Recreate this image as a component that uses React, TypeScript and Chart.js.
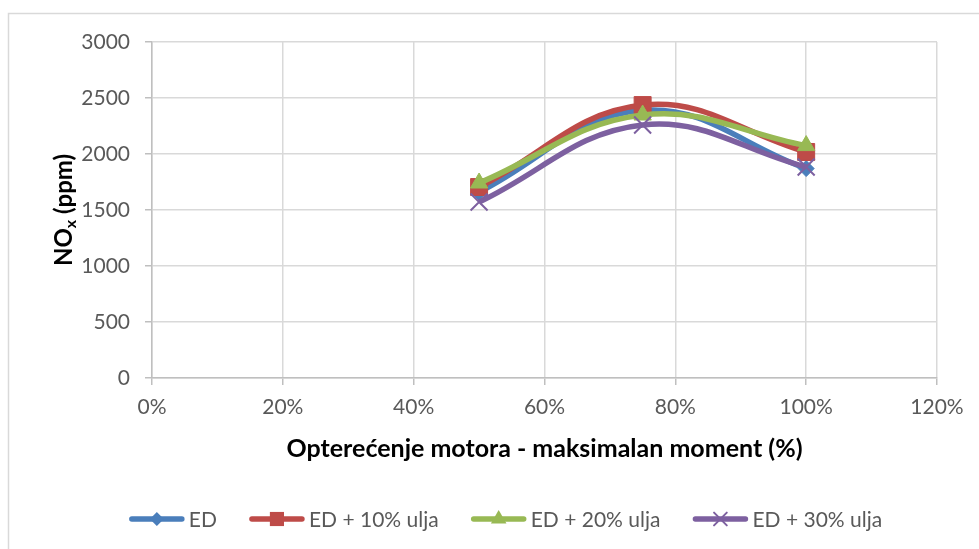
import React, { useEffect, useRef } from 'react';
import { Chart, registerables } from 'chart.js';

Chart.register(...registerables);

const loads = [50, 75, 100];
const seriesNames = ['ED', 'ED + 10% ulja', 'ED + 20% ulja', 'ED + 30% ulja'];
const edValues = [1660, 2390, 1870];
const ed10Values = [1705, 2437, 2018];
const ed20Values = [1741, 2348, 2075];
const ed30Values = [1571, 2259, 1884];
const seriesColors = ['#4A7EBB', '#BE4B48', '#98B954', '#7D60A0'];
const pointStyles = ['rectRot', 'rect', 'triangle', 'crossRot'];
const pointRadii = [8, 12, 10, 12];
const legendRadii = [7, 10, 9, 9];
const xTitle = 'Opterećenje motora - maksimalan moment (%)';
const yTitleMain = 'NO';
const yTitleSub = 'x';
const yTitleRest = ' (ppm)';

const FONT = 'Lato, "Open Sans", sans-serif';
const TICK_COLOR = '#595959';

function drawMarker(ctx: CanvasRenderingContext2D, style: string, x: number, y: number, r: number, color: string) {
  ctx.save();
  ctx.fillStyle = color;
  ctx.strokeStyle = color;
  ctx.beginPath();
  if (style === 'rectRot') {
    ctx.moveTo(x - r, y);
    ctx.lineTo(x, y - r);
    ctx.lineTo(x + r, y);
    ctx.lineTo(x, y + r);
    ctx.closePath();
    ctx.fill();
  } else if (style === 'rect') {
    const s = r * Math.SQRT1_2;
    ctx.rect(x - s, y - s, 2 * s, 2 * s);
    ctx.fill();
  } else if (style === 'triangle') {
    ctx.moveTo(x, y - r);
    ctx.lineTo(x + r * 0.866, y + r * 0.5);
    ctx.lineTo(x - r * 0.866, y + r * 0.5);
    ctx.closePath();
    ctx.fill();
  } else {
    const s = r * Math.SQRT1_2;
    ctx.lineWidth = 2;
    ctx.moveTo(x - s, y - s);
    ctx.lineTo(x + s, y + s);
    ctx.moveTo(x + s, y - s);
    ctx.lineTo(x - s, y + s);
    ctx.stroke();
  }
  ctx.restore();
}

const decorPlugin = {
  id: 'decor',
  beforeDraw(chart: any) {
    const ctx = chart.ctx as CanvasRenderingContext2D;
    ctx.save();
    ctx.fillStyle = '#ffffff';
    ctx.fillRect(0, 0, chart.width, chart.height);
    ctx.strokeStyle = '#d9d9d9';
    ctx.lineWidth = 1.5;
    ctx.beginPath();
    ctx.moveTo(8.5, chart.height + 5);
    ctx.lineTo(8.5, 13.5);
    ctx.lineTo(chart.width + 5, 13.5);
    ctx.stroke();
    ctx.restore();
  },
  afterDraw(chart: any) {
    const ctx = chart.ctx as CanvasRenderingContext2D;
    const area = chart.chartArea;
    ctx.save();
    // x title
    ctx.fillStyle = '#000000';
    ctx.font = `bold 25px ${FONT}`;
    ctx.textAlign = 'center';
    ctx.textBaseline = 'middle';
    ctx.fillText(xTitle, (area.left + area.right) / 2, 449);

    // y title with subscript
    const mainFont = `bold 24px ${FONT}`;
    const subFont = `bold 16px ${FONT}`;
    ctx.font = mainFont;
    const w1 = ctx.measureText(yTitleMain).width;
    const w3 = ctx.measureText(yTitleRest).width;
    ctx.font = subFont;
    const w2 = ctx.measureText(yTitleSub).width;
    const total = w1 + w2 + w3;
    ctx.translate(64, (area.top + area.bottom) / 2);
    ctx.rotate(-Math.PI / 2);
    ctx.textAlign = 'left';
    ctx.textBaseline = 'middle';
    let x = -total / 2;
    ctx.font = mainFont;
    ctx.fillText(yTitleMain, x, 0);
    x += w1;
    ctx.font = subFont;
    ctx.fillText(yTitleSub, x, 7);
    x += w2;
    ctx.font = mainFont;
    ctx.fillText(yTitleRest, x, 0);
    ctx.restore();

    // legend
    ctx.save();
    ctx.font = `21px ${FONT}`;
    ctx.textBaseline = 'middle';
    ctx.textAlign = 'left';
    const lineLen = 56;
    const textGap = 4;
    const itemGap = 32;
    const widths = seriesNames.map((n) => ctx.measureText(n).width);
    const totalW = widths.reduce((a, b) => a + b, 0) + seriesNames.length * (lineLen + textGap) + itemGap * (seriesNames.length - 1);
    let lx = 505.5 - totalW / 2;
    const ly = 519;
    seriesNames.forEach((name, i) => {
      ctx.strokeStyle = seriesColors[i];
      ctx.lineWidth = 5.5;
      ctx.lineCap = 'round';
      ctx.beginPath();
      ctx.moveTo(lx + 3, ly);
      ctx.lineTo(lx + lineLen - 3, ly);
      ctx.stroke();
      drawMarker(ctx, pointStyles[i], lx + lineLen / 2, ly, legendRadii[i], seriesColors[i]);
      ctx.fillStyle = TICK_COLOR;
      ctx.fillText(name, lx + lineLen + textGap, ly + 1);
      lx += lineLen + textGap + widths[i] + itemGap;
    });
    ctx.restore();
  },
};

export default function App() {
  const ref = useRef<HTMLCanvasElement | null>(null);

  useEffect(() => {
    if (!ref.current) return;
    const allValues = [edValues, ed10Values, ed20Values, ed30Values];
    const chart = new Chart(ref.current, {
      type: 'line',
      data: {
        datasets: allValues.map((vals, i) => ({
          label: seriesNames[i],
          data: loads.map((l, j) => ({ x: l, y: vals[j] })),
          borderColor: seriesColors[i],
          backgroundColor: seriesColors[i],
          borderWidth: 5.5,
          tension: 0.4,
          pointStyle: pointStyles[i] as any,
          pointRadius: pointRadii[i],
          pointBorderWidth: i === 3 ? 2 : 1,
          pointBackgroundColor: seriesColors[i],
          pointBorderColor: seriesColors[i],
          order: 3 - i,
          fill: false,
        })),
      },
      options: {
        animation: false,
        responsive: false,
        layout: { padding: { left: 0, top: 42, right: 42, bottom: 0 } },
        plugins: {
          legend: { display: false },
          tooltip: { enabled: false },
        },
        scales: {
          x: {
            type: 'linear',
            min: 0,
            max: 120,
            afterFit: (s: any) => {
              s.height = 549 - 378;
            },
            ticks: {
              stepSize: 20,
              callback: (v: any) => `${v}%`,
              color: TICK_COLOR,
              font: { family: FONT, size: 21 },
              padding: 10,
              maxRotation: 0,
            },
            grid: { color: '#d9d9d9', lineWidth: 1.5, tickLength: 7, tickColor: '#bfbfbf' },
            border: { color: '#bfbfbf', width: 1.5 },
          },
          y: {
            min: 0,
            max: 3000,
            afterFit: (s: any) => {
              s.width = 152;
            },
            ticks: {
              stepSize: 500,
              callback: (v: any) => String(v),
              color: TICK_COLOR,
              font: { family: FONT, size: 21 },
              padding: 15,
            },
            grid: { color: '#d9d9d9', lineWidth: 1.5, tickLength: 7, tickColor: '#bfbfbf' },
            border: { color: '#bfbfbf', width: 1.5 },
          },
        },
      },
      plugins: [decorPlugin],
    });
    return () => chart.destroy();
  }, []);

  return (
    <canvas
      ref={ref}
      width={979}
      height={549}
      style={{ position: 'fixed', left: 0, top: 0, display: 'block' }}
    />
  );
}
